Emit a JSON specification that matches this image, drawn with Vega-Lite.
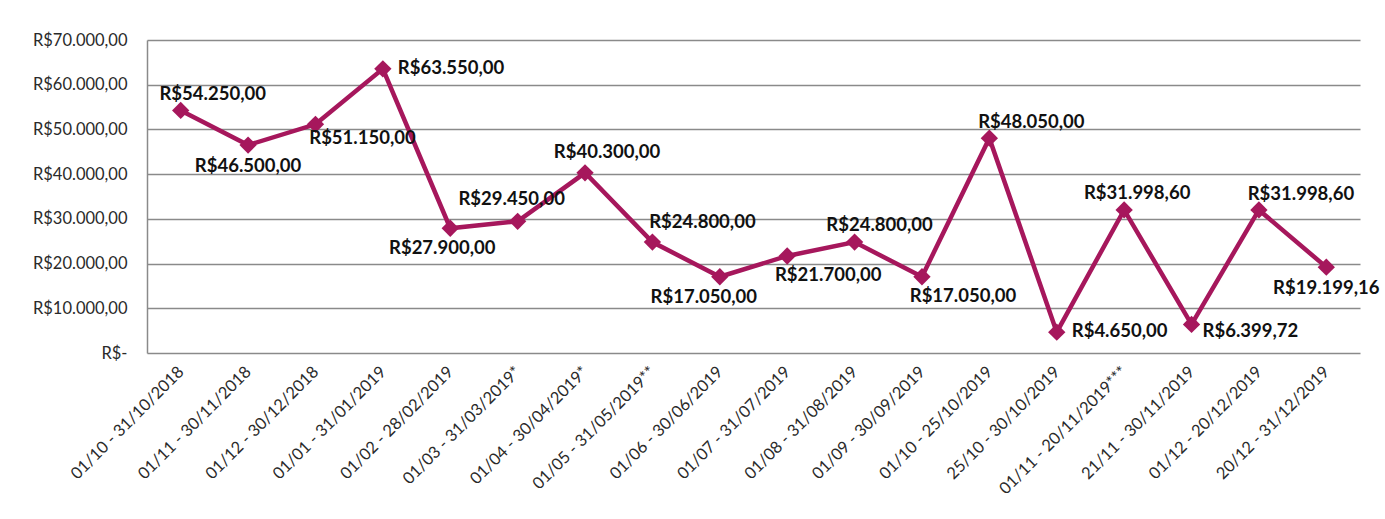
{
  "$schema": "https://vega.github.io/schema/vega-lite/v6.json",
  "width": 1213,
  "height": 313,
  "autosize": {"type": "none"},
  "padding": {"left": 147, "top": 40, "right": 25, "bottom": 166},
  "background": "white",
  "config": {
    "locale": {"number": {"decimal": ",", "thousands": ".", "grouping": [3], "currency": ["R$", ""]}},
    "view": {"stroke": null},
    "font": "Lato"
  },
  "data": {"values": [
    {"periodo": "01/10 - 31/10/2018", "valor": 54250},
    {"periodo": "01/11 - 30/11/2018", "valor": 46500},
    {"periodo": "01/12 - 30/12/2018", "valor": 51150},
    {"periodo": "01/01 - 31/01/2019", "valor": 63550},
    {"periodo": "01/02 - 28/02/2019", "valor": 27900},
    {"periodo": "01/03 - 31/03/2019*", "valor": 29450},
    {"periodo": "01/04 - 30/04/2019*", "valor": 40300},
    {"periodo": "01/05 - 31/05/2019**", "valor": 24800},
    {"periodo": "01/06 - 30/06/2019", "valor": 17050},
    {"periodo": "01/07 - 31/07/2019", "valor": 21700},
    {"periodo": "01/08 - 31/08/2019", "valor": 24800},
    {"periodo": "01/09 - 30/09/2019", "valor": 17050},
    {"periodo": "01/10 - 25/10/2019", "valor": 48050},
    {"periodo": "25/10 - 30/10/2019", "valor": 4650},
    {"periodo": "01/11 - 20/11/2019***", "valor": 31998.6},
    {"periodo": "21/11 - 30/11/2019", "valor": 6399.72},
    {"periodo": "01/12 - 20/12/2019", "valor": 31998.6},
    {"periodo": "20/12 - 31/12/2019", "valor": 19199.16}
  ]},
  "encoding": {
    "x": {"field": "periodo", "type": "ordinal", "sort": null,
      "scale": {"type": "point", "padding": 0.5},
      "axis": {"title": null, "labelAngle": -45, "labelAlign": "right", "labelBaseline": "middle",
        "labelFontSize": 16.5, "labelColor": "#2a2a2a", "labelPadding": 16, "ticks": false, "domain": false, "grid": false}},
    "y": {"field": "valor", "type": "quantitative",
      "scale": {"domain": [0, 70000], "nice": false},
      "axis": {"title": null, "values": [0, 10000, 20000, 30000, 40000, 50000, 60000, 70000],
        "format": "$,.2f", "labelExpr": "datum.value == 0 ? 'R$-\u00a0\u00a0' : datum.label",
        "labelFontSize": 16.5, "labelColor": "#2a2a2a", "labelPadding": 20, "ticks": false,
        "domain": true, "domainColor": "#8a8a8a", "domainWidth": 1.5,
        "grid": true, "gridColor": "#8a8a8a", "gridWidth": 1.5}}
  },
  "layer": [
    {"mark": {"type": "line", "color": "#a6175c", "strokeWidth": 4.5}},
    {"mark": {"type": "point", "shape": "diamond", "filled": true, "size": 300, "color": "#a6175c", "opacity": 1}},
    {
      "encoding": {"text": {"field": "valor", "type": "quantitative", "format": "$,.2f"}},
      "layer": [
        {"transform": [{"filter": {"field": "periodo", "oneOf": ["01/10 - 31/10/2018"]}}],
         "mark": {"type": "text", "fontSize": 18.5, "fontWeight": "bold", "color": "#111", "dx": 32, "dy": -16}},
        {"transform": [{"filter": {"field": "periodo", "oneOf": ["01/11 - 30/11/2018", "20/12 - 31/12/2019"]}}],
         "mark": {"type": "text", "fontSize": 18.5, "fontWeight": "bold", "color": "#111", "dx": 0, "dy": 21}},
        {"transform": [{"filter": {"field": "periodo", "oneOf": ["01/12 - 30/12/2018"]}}],
         "mark": {"type": "text", "fontSize": 18.5, "fontWeight": "bold", "color": "#111", "dx": 47, "dy": 14}},
        {"transform": [{"filter": {"field": "periodo", "oneOf": ["01/01 - 31/01/2019", "25/10 - 30/10/2019"]}}],
         "mark": {"type": "text", "fontSize": 18.5, "fontWeight": "bold", "color": "#111", "align": "left", "dx": 15, "dy": -1}},
        {"transform": [{"filter": {"field": "periodo", "oneOf": ["21/11 - 30/11/2019"]}}],
         "mark": {"type": "text", "fontSize": 18.5, "fontWeight": "bold", "color": "#111", "align": "left", "dx": 11, "dy": 7}},
        {"transform": [{"filter": {"field": "periodo", "oneOf": ["01/02 - 28/02/2019"]}}],
         "mark": {"type": "text", "fontSize": 18.5, "fontWeight": "bold", "color": "#111", "dx": -8, "dy": 20}},
        {"transform": [{"filter": {"field": "periodo", "oneOf": ["01/03 - 31/03/2019*"]}}],
         "mark": {"type": "text", "fontSize": 18.5, "fontWeight": "bold", "color": "#111", "dx": -6, "dy": -22}},
        {"transform": [{"filter": {"field": "periodo", "oneOf": ["01/04 - 30/04/2019*"]}}],
         "mark": {"type": "text", "fontSize": 18.5, "fontWeight": "bold", "color": "#111", "dx": 22, "dy": -21}},
        {"transform": [{"filter": {"field": "periodo", "oneOf": ["01/05 - 31/05/2019**"]}}],
         "mark": {"type": "text", "fontSize": 18.5, "fontWeight": "bold", "color": "#111", "dx": 50, "dy": -20}},
        {"transform": [{"filter": {"field": "periodo", "oneOf": ["01/06 - 30/06/2019"]}}],
         "mark": {"type": "text", "fontSize": 18.5, "fontWeight": "bold", "color": "#111", "dx": -16, "dy": 20}},
        {"transform": [{"filter": {"field": "periodo", "oneOf": ["01/07 - 31/07/2019", "01/09 - 30/09/2019"]}}],
         "mark": {"type": "text", "fontSize": 18.5, "fontWeight": "bold", "color": "#111", "dx": 41, "dy": 19}},
        {"transform": [{"filter": {"field": "periodo", "oneOf": ["01/08 - 31/08/2019"]}}],
         "mark": {"type": "text", "fontSize": 18.5, "fontWeight": "bold", "color": "#111", "dx": 25, "dy": -17}},
        {"transform": [{"filter": {"field": "periodo", "oneOf": ["01/10 - 25/10/2019", "01/12 - 20/12/2019"]}}],
         "mark": {"type": "text", "fontSize": 18.5, "fontWeight": "bold", "color": "#111", "dx": 42, "dy": -16}},
        {"transform": [{"filter": {"field": "periodo", "oneOf": ["01/11 - 20/11/2019***"]}}],
         "mark": {"type": "text", "fontSize": 18.5, "fontWeight": "bold", "color": "#111", "dx": 13, "dy": -17}}
      ]
    }
  ]
}
